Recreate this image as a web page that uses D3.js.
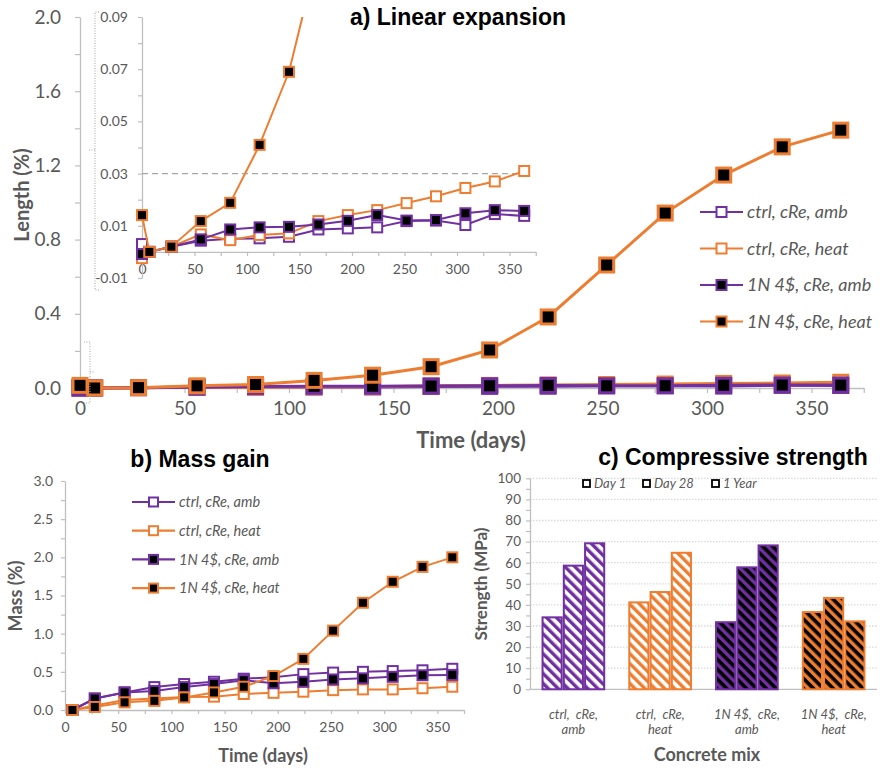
<!DOCTYPE html>
<html>
<head>
<meta charset="utf-8">
<script src="https://cdn.jsdelivr.net/npm/d3@7"></script>
<style>
body { margin: 0; background: #fff; }
</style>
</head>
<body>
<svg id="chart" width="880" height="768" font-family="Lato, 'Open Sans', sans-serif"></svg>
<script>
'use strict';

//#region DATA
const seriesNames = ['ctrl, cRe, amb', 'ctrl, cRe, heat', '1N 4$, cRe, amb', '1N 4$, cRe, heat'];

// a) linear expansion, % length change
const lengthDays = [0, 7, 28, 56, 84, 112, 140, 168, 196, 224, 252, 280, 308, 336, 364];
const lenCtrlAmb = [0.003, 0.0, 0.002, 0.0043, 0.005, 0.0052, 0.0058, 0.0086, 0.009, 0.0094, 0.0118, 0.012, 0.0103, 0.0145, 0.0138];
const lenCtrlHeat = [-0.0024, 0.0, 0.002, 0.0067, 0.0045, 0.0065, 0.0071, 0.0118, 0.0141, 0.016, 0.0187, 0.0213, 0.0245, 0.027, 0.031];
const lenN4Amb = [-0.0008, 0.0, 0.002, 0.0048, 0.0086, 0.0094, 0.0096, 0.0105, 0.0119, 0.0141, 0.012, 0.0122, 0.0148, 0.016, 0.0157];
const lenN4Heat = [0.0141, 0.0, 0.002, 0.0118, 0.0188, 0.041, 0.069, 0.115, 0.205, 0.383, 0.663, 0.943, 1.148, 1.30, 1.39];

// b) mass gain, %
const massDays = [7, 28, 56, 84, 112, 140, 168, 196, 224, 252, 280, 308, 336, 364];
const massCtrlAmb = [0, 0.15, 0.23, 0.30, 0.34, 0.37, 0.41, 0.43, 0.47, 0.49, 0.50, 0.51, 0.52, 0.54];
const massCtrlHeat = [0, 0.06, 0.13, 0.15, 0.17, 0.175, 0.21, 0.225, 0.24, 0.26, 0.27, 0.27, 0.285, 0.305];
const massN4Amb = [0, 0.15, 0.23, 0.25, 0.30, 0.34, 0.39, 0.35, 0.37, 0.40, 0.415, 0.435, 0.455, 0.46];
const massN4Heat = [0, 0.04, 0.10, 0.12, 0.165, 0.23, 0.305, 0.445, 0.67, 1.04, 1.405, 1.68, 1.875, 2.0];

// c) compressive strength, MPa
const mixLines = [['ctrl,  cRe,', 'amb'], ['ctrl,  cRe,', 'heat'], ['1N 4$,  cRe,', 'amb'], ['1N 4$,  cRe,', 'heat']];
const ages = ['Day 1', 'Day 28', '1 Year'];
const strengthDay1 = [34.1, 41.2, 31.8, 36.6];
const strengthDay28 = [58.6, 46.1, 57.8, 43.3];
const strengthYear1 = [69.2, 64.7, 68.2, 32.2];
//#endregion

//#region STYLES
const PURPLE = '#7030A0';
const ORANGE = '#ED7D31';
const AXIS_GRAY = '#BFBFBF';
const TEXT_GRAY = '#595959';
const seriesColors = [PURPLE, ORANGE, PURPLE, ORANGE];
const seriesFill = ['#fff', '#fff', '#000', '#000'];
//#endregion

const svg = d3.select('#chart');
const defs = svg.append('defs');

//#region HELPERS
function styleAxis(g, size) {
    g.attr('font-family', 'Lato, sans-serif').attr('font-size', size);
    g.select('.domain').attr('stroke', AXIS_GRAY).attr('stroke-width', 1.3);
    g.selectAll('.tick line').attr('stroke', AXIS_GRAY).attr('stroke-width', 1.2);
    g.selectAll('.tick text').attr('fill', TEXT_GRAY);
}

function drawSeries(g, x, y, days, values, i, lineW, size, markW) {
    const line = d3.line().x((d, j) => x(days[j])).y(d => y(d));
    g.append('path')
        .datum(values)
        .attr('d', line)
        .attr('fill', 'none')
        .attr('stroke', seriesColors[i])
        .attr('stroke-width', lineW);
    g.selectAll(null)
        .data(values)
        .enter()
        .append('rect')
        .attr('x', (d, j) => x(days[j]) - size / 2)
        .attr('y', d => y(d) - size / 2)
        .attr('width', size)
        .attr('height', size)
        .attr('fill', seriesFill[i])
        .attr('stroke', seriesColors[i])
        .attr('stroke-width', markW);
}

function drawLegend(x0, x1, y0, dy, size, fontSize) {
    seriesNames.forEach((name, i) => {
        const yy = y0 + i * dy;
        svg.append('line')
            .attr('x1', x0).attr('x2', x1)
            .attr('y1', yy).attr('y2', yy)
            .attr('stroke', seriesColors[i]).attr('stroke-width', 2.2);
        svg.append('rect')
            .attr('x', (x0 + x1) / 2 - size / 2).attr('y', yy - size / 2)
            .attr('width', size).attr('height', size)
            .attr('fill', seriesFill[i])
            .attr('stroke', seriesColors[i]).attr('stroke-width', 2);
        svg.append('text')
            .attr('x', x1 + 4).attr('y', yy + fontSize * 0.36)
            .attr('font-size', fontSize)
            .attr('font-style', 'italic')
            .attr('fill', TEXT_GRAY)
            .text(name);
    });
}

function title(txt, x, y) {
    svg.append('text')
        .attr('x', x).attr('y', y)
        .attr('text-anchor', 'middle')
        .attr('font-family', '"Liberation Sans", Arial, sans-serif')
        .attr('font-weight', 'bold')
        .attr('font-size', 23)
        .attr('fill', '#000')
        .text(txt);
}

function axisTitle(txt, x, y, size, rotate) {
    svg.append('text')
        .attr('transform', `translate(${x},${y})` + (rotate ? ' rotate(-90)' : ''))
        .attr('text-anchor', 'middle')
        .attr('font-weight', 'bold')
        .attr('font-size', size)
        .attr('fill', TEXT_GRAY)
        .text(txt);
}
//#endregion

//#region a) LINEAR EXPANSION
const xMain = d3.scaleLinear([0, 375], [80, 80 + 375 * 2.09]);
const yMain = d3.scaleLinear([0, 2], [388, 17]);

svg.append('g')
    .attr('transform', `translate(0,${yMain(0)})`)
    .call(d3.axisBottom(xMain).tickValues(d3.range(0, 16).map(i => i * 25))
        .tickFormat(d => d % 50 === 0 ? d : '').tickSize(5).tickPadding(9).tickSizeOuter(0))
    .call(g => styleAxis(g, 19));

svg.append('g')
    .attr('transform', `translate(${xMain(0)},0)`)
    .call(d3.axisLeft(yMain).tickValues(d3.range(0, 11).map(i => i * 0.2))
        .tickFormat((d, i) => i % 2 === 0 ? d.toFixed(1) : '').tickSize(5).tickPadding(14).tickSizeOuter(0))
    .call(g => styleAxis(g, 19));

const mainPlot = svg.append('g');
[lenCtrlAmb, lenCtrlHeat, lenN4Amb, lenN4Heat].forEach((vals, i) => {
    drawSeries(mainPlot, xMain, yMain, lengthDays, vals, i, 3, 14, 3);
});

// zoom braces, dotted
svg.append('path')
    .attr('d', 'M99,12 H95 V290 H99 M95,150 H89')
    .attr('fill', 'none').attr('stroke', '#A6A6A6').attr('stroke-width', 1).attr('stroke-dasharray', '1,1.5');
svg.append('path')
    .attr('d', 'M84,342 H90 V403 H84 M90,372 H95')
    .attr('fill', 'none').attr('stroke', '#A6A6A6').attr('stroke-width', 1).attr('stroke-dasharray', '1,1.5');

// inset
const xIn = d3.scaleLinear([0, 375], [142, 142 + 375 * 1.05]);
const yIn = d3.scaleLinear([-0.01, 0.09], [278, 17]);

defs.append('clipPath').attr('id', 'inset-clip')
    .append('rect').attr('x', 120).attr('y', 17).attr('width', 440).attr('height', 300);

svg.append('g')
    .attr('transform', `translate(0,${yIn(0)})`)
    .call(d3.axisBottom(xIn).tickValues(d3.range(0, 16).map(i => i * 25))
        .tickFormat(d => d % 50 === 0 ? d : '').tickSize(4).tickPadding(8).tickSizeOuter(0))
    .call(g => styleAxis(g, 14));

svg.append('g')
    .attr('transform', `translate(${xIn(0)},0)`)
    .call(d3.axisLeft(yIn).tickValues(d3.range(0, 11).map(i => -0.01 + i * 0.01))
        .tickFormat(d => Math.abs(Math.round(d * 100)) % 2 === 1 ? d.toFixed(2) : '')
        .tickSize(4).tickPadding(10).tickSizeOuter(0))
    .call(g => styleAxis(g, 14));

svg.append('line')
    .attr('x1', xIn(0)).attr('x2', xIn(365))
    .attr('y1', yIn(0.03)).attr('y2', yIn(0.03))
    .attr('stroke', '#A6A6A6').attr('stroke-width', 1.3).attr('stroke-dasharray', '6,4');

const insetPlot = svg.append('g').attr('clip-path', 'url(#inset-clip)');
[lenCtrlAmb, lenCtrlHeat, lenN4Amb, lenN4Heat].forEach((vals, i) => {
    drawSeries(insetPlot, xIn, yIn, lengthDays, vals, i, 2, 10, 2);
});

drawLegend(700, 743, 212, 36.5, 10, 18);
title('a) Linear expansion', 458, 25);
axisTitle('Length (%)', 29, 195, 20, true);
axisTitle('Time (days)', 471, 448, 22, false);
//#endregion

//#region b) MASS GAIN
const xMass = d3.scaleLinear([0, 375], [65, 464]);
const yMass = d3.scaleLinear([0, 3], [710, 481]);

svg.append('g')
    .attr('transform', `translate(0,${yMass(0)})`)
    .call(d3.axisBottom(xMass).tickValues(d3.range(0, 16).map(i => i * 25))
        .tickFormat(d => d % 50 === 0 ? d : '').tickSize(4).tickPadding(8).tickSizeOuter(0))
    .call(g => styleAxis(g, 14));

svg.append('g')
    .attr('transform', `translate(${xMass(0)},0)`)
    .call(d3.axisLeft(yMass).tickValues(d3.range(0, 13).map(i => i * 0.25))
        .tickFormat((d, i) => i % 2 === 0 ? d.toFixed(1) : '').tickSize(4).tickPadding(8).tickSizeOuter(0))
    .call(g => styleAxis(g, 14));

const massPlot = svg.append('g');
[massCtrlAmb, massCtrlHeat, massN4Amb, massN4Heat].forEach((vals, i) => {
    drawSeries(massPlot, xMass, yMass, massDays, vals, i, 2, 10, 2);
});

drawLegend(132, 175, 502, 28.7, 9, 14.5);
title('b) Mass gain', 200, 467);
axisTitle('Mass (%)', 22, 596, 18, true);
axisTitle('Time (days)', 263, 762, 18, false);
//#endregion

//#region c) COMPRESSIVE STRENGTH
const yStr = d3.scaleLinear([0, 100], [689.3, 478.3]);
const xGroup = d3.scaleBand().domain(d3.range(4)).range([530, 877]).paddingInner(0.24).paddingOuter(0.12);
const xAge = d3.scaleBand().domain(d3.range(3)).range([0, xGroup.bandwidth()]).padding(0.1);

// stripe fills, "\" direction
function hatch(id, bg, fg) {
    const p = defs.append('pattern')
        .attr('id', id)
        .attr('patternUnits', 'userSpaceOnUse')
        .attr('width', 7).attr('height', 7)
        .attr('patternTransform', 'rotate(-45)');
    p.append('rect').attr('width', 7).attr('height', 7).attr('fill', bg);
    p.append('rect').attr('width', 3.4).attr('height', 7).attr('fill', fg);
}
hatch('h0', '#fff', PURPLE);
hatch('h1', '#fff', ORANGE);
hatch('h2', '#000', PURPLE);
hatch('h3', '#000', ORANGE);

// dotted gridlines
svg.append('g')
    .selectAll('line')
    .data(d3.range(1, 11).map(i => i * 10))
    .enter()
    .append('line')
    .attr('x1', 530).attr('x2', 877)
    .attr('y1', d => yStr(d)).attr('y2', d => yStr(d))
    .attr('stroke', '#D9D9D9').attr('stroke-width', 1.3).attr('stroke-dasharray', '1.5,1.5');

svg.append('g')
    .attr('transform', 'translate(530,0)')
    .call(d3.axisLeft(yStr).tickValues(d3.range(0, 21).map(i => i * 5))
        .tickFormat(d => d % 10 === 0 ? d : '').tickSize(4).tickPadding(5).tickSizeOuter(0))
    .call(g => styleAxis(g, 13.5));

svg.append('line')
    .attr('x1', 530).attr('x2', 877)
    .attr('y1', yStr(0)).attr('y2', yStr(0))
    .attr('stroke', AXIS_GRAY).attr('stroke-width', 1.3);

const strengthSets = [strengthDay1, strengthDay28, strengthYear1];
mixLines.forEach((lines, m) => {
    const g = svg.append('g').attr('transform', `translate(${xGroup(m)},0)`);
    g.selectAll('rect')
        .data(strengthSets.map(s => s[m]))
        .enter()
        .append('rect')
        .attr('x', (d, a) => xAge(a))
        .attr('y', d => yStr(d))
        .attr('width', xAge.bandwidth())
        .attr('height', d => yStr(0) - yStr(d))
        .attr('fill', `url(#h${m})`)
        .attr('stroke', seriesColors[m])
        .attr('stroke-width', 2);
    lines.forEach((ln, k) => {
        svg.append('text')
            .attr('x', xGroup(m) + xGroup.bandwidth() / 2)
            .attr('y', 719 + k * 15)
            .attr('text-anchor', 'middle')
            .attr('font-size', 13)
            .attr('font-style', 'italic')
            .attr('fill', TEXT_GRAY)
            .style('white-space', 'pre')
            .text(ln);
    });
});

// age legend
const legendX = [583, 643, 712];
ages.forEach((age, a) => {
    svg.append('rect')
        .attr('x', legendX[a]).attr('y', 480)
        .attr('width', 7).attr('height', 7)
        .attr('fill', '#fff').attr('stroke', '#000').attr('stroke-width', 1.8);
    svg.append('text')
        .attr('x', legendX[a] + 11).attr('y', 488)
        .attr('font-size', 13)
        .attr('font-style', 'italic')
        .attr('fill', TEXT_GRAY)
        .text(age);
});

title('c) Compressive strength', 733, 465);
axisTitle('Strength (MPa)', 487, 584, 17, true);
axisTitle('Concrete mix', 707, 761, 18, false);
//#endregion
</script>
</body>
</html>
